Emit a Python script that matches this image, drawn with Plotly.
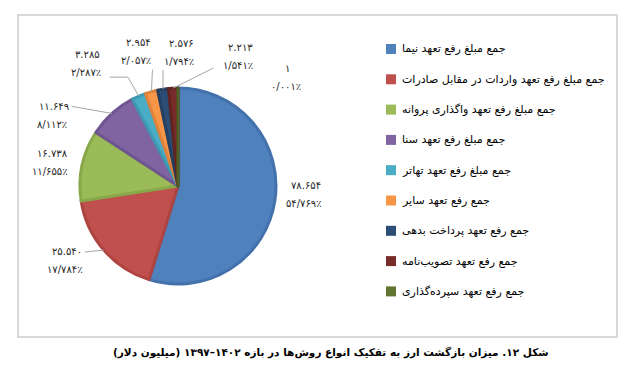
import math
import plotly.graph_objects as go

# ---------------- data ----------------
categories = [
    "جمع مبلغ رفع تعهد نیما",
    "جمع مبلغ رفع تعهد واردات در مقابل صادرات",
    "جمع مبلغ رفع تعهد واگذاری پروانه",
    "جمع مبلغ رفع تعهد سنا",
    "جمع مبلغ رفع تعهد تهاتر",
    "جمع رفع تعهد سایر",
    "جمع رفع تعهد پرداخت بدهی",
    "جمع رفع تعهد تصویب‌نامه",
    "جمع رفع تعهد سپرده‌گذاری",
]
values = [78654, 25540, 16738, 11649, 3285, 2954, 2576, 2213, 1]
title_text = "شکل ۱۲. میزان بازگشت ارز به تفکیک انواع روش‌ها در بازه ۱۴۰۲–۱۳۹۷ (میلیون دلار)"

# ---------------- styles ----------------
colors = ["#4F81BD", "#C0504D", "#9BBB59", "#8064A2", "#4BACC6",
          "#F79646", "#2C4D75", "#772C2A", "#5F7530"]
line_colors = ["#4371AB", "#AE4441", "#89A84C", "#6F5590", "#3E9AB3",
               "#E0833A", "#233F61", "#622321", "#4E6227"]

W, H = 644, 373
CX, CY, R = 178, 186, 98          # pie geometry in pixels
FONT = "DejaVu Sans"

# label block offsets (px, relative to slice edge point at mid angle)
label_off = [(29, -6), (-39, 10), (-32, -3), (-60, 2), (-53, -33),
             (-15, -40), (16, -37), (65, -32), (108, -11)]
# leader line start (px, relative to label block centre); None = no line
leader = [None, [(20, -8)], None, [(20, -9)], [(24, 14), (42, 14)],
          [(16, 18)], [(-16, 18)], [(-25, 12)], None]

P_DIG = "۰۱۲۳۴۵۶۷۸۹"


def fa(s):
    return "".join(P_DIG[int(c)] if c.isdigit() else c for c in s)


def px(x):
    return x / W


def py(y):
    return 1 - y / H


total = sum(values)
fig = go.Figure()
fig.add_trace(go.Pie(
    labels=categories, values=values, sort=False, direction="clockwise",
    rotation=0, textinfo="none", hoverinfo="label+value+percent",
    marker=dict(colors=colors, line=dict(color=line_colors, width=3)),
    domain=dict(x=[px(CX - R), px(CX + R)], y=[py(CY + R), py(CY - R)]),
    showlegend=False,
))

annotations = []
shapes = []

# frame
shapes.append(dict(type="rect", xref="paper", yref="paper",
                   x0=px(18), x1=px(617), y0=py(337), y1=py(15),
                   line=dict(color="#D9D9D9", width=2), layer="below"))

lab_font = dict(family=FONT, size=10, color="#262626")
cum = 0
for i, v in enumerate(values):
    mid = (cum + v / 2) / total * 2 * math.pi
    cum += v
    ax = CX + R * math.sin(mid)
    ay = CY - R * math.cos(mid)
    bx = ax + label_off[i][0]
    by = ay + label_off[i][1]
    val_s = fa(f"{v:,}".replace(",", "."))
    pct_s = fa(f"{v / total * 100:.3f}".replace(".", "/")) + "٪"
    annotations.append(dict(x=px(bx + 2), y=py(by - 9), xref="paper", yref="paper",
                            xanchor="center", yanchor="middle",
                            text=val_s, showarrow=False, font=lab_font))
    annotations.append(dict(x=px(bx), y=py(by + 9), xref="paper", yref="paper",
                            xanchor="center", yanchor="middle",
                            text=pct_s, showarrow=False, font=lab_font))
    if leader[i]:
        pts = [(bx + dx, by + dy) for dx, dy in leader[i]] + [(ax, ay)]
        path = "M " + " L ".join(f"{px(x):.5f},{py(y):.5f}" for x, y in pts)
        shapes.append(dict(type="path", xref="paper", yref="paper", path=path,
                           line=dict(color="#A6A6A6", width=1)))

# custom legend
for i, name in enumerate(categories):
    yc = 49 + i * 30.3
    shapes.append(dict(type="rect", xref="paper", yref="paper",
                       x0=px(386), x1=px(396), y0=py(yc + 5), y1=py(yc - 5),
                       fillcolor=colors[i], line=dict(width=0)))
    annotations.append(dict(x=px(400), y=py(yc), xref="paper", yref="paper",
                            xanchor="left", yanchor="middle", text=name,
                            showarrow=False,
                            font=dict(family=FONT, size=11, color="#000000")))

# caption
annotations.append(dict(x=px(331), y=py(352), xref="paper", yref="paper",
                        xanchor="center", yanchor="middle",
                        text="<b>\u202b" + title_text + "\u202c</b>",
                        showarrow=False,
                        font=dict(family=FONT, size=10.5, color="#000000")))

fig.update_layout(width=W, height=H, margin=dict(l=0, r=0, t=0, b=0),
                  paper_bgcolor="white", plot_bgcolor="white",
                  annotations=annotations, shapes=shapes)

fig.write_html("out.html")
